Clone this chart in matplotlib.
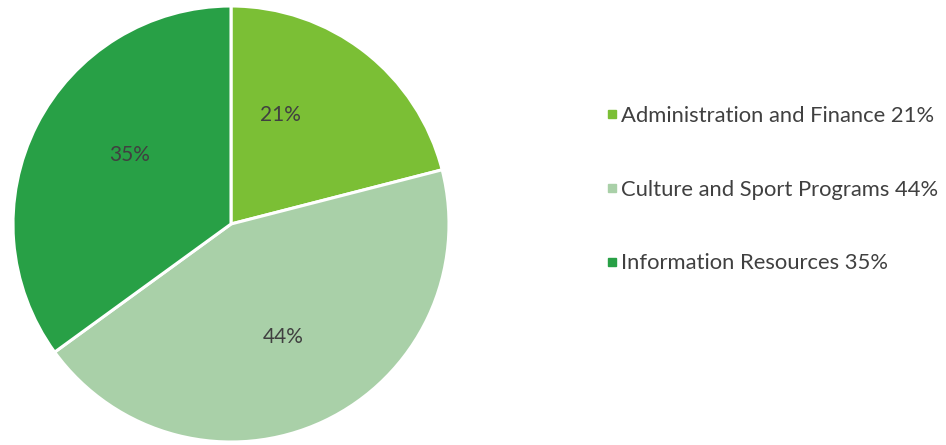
import matplotlib
matplotlib.use("Agg")
import matplotlib.pyplot as plt
from matplotlib.lines import Line2D

categories = ["Administration and Finance", "Culture and Sport Programs", "Information Resources"]
values = [21, 44, 35]
colors = ["#7BBF35", "#A9D0A8", "#28A046"]
pct_labels = ["21%", "44%", "35%"]
label_pos = [(0.225, 0.50), (0.239, -0.518), (-0.463, 0.317)]

W, H = 946, 445
fig = plt.figure(figsize=(W / 100, H / 100), dpi=100)
cx, cy, r = 231, 224, 218
ax = fig.add_axes([(cx - r) / W, (H - cy - r) / H, 2 * r / W, 2 * r / H])
wedges, _ = ax.pie(values, colors=colors, startangle=90, counterclock=False,
                   wedgeprops=dict(edgecolor="white", linewidth=2.2), radius=1)
ax.set_xlim(-1.0, 1.0)
ax.set_ylim(-1.0, 1.0)
ax.set_aspect("equal")
ax.axis("off")

font = "Lato"
txt_color = "#404040"
for (x, y), t in zip(label_pos, pct_labels):
    ax.text(x, y, t, ha="center", va="center", fontsize=15, color=txt_color, family=font)

handles = [Line2D([0], [0], marker="s", linestyle="none", markersize=5.5,
                  markerfacecolor=c, markeredgecolor=c) for c in colors]
labels = [f"{c} {v}%" for c, v in zip(categories, values)]
leg = fig.legend(handles, labels, loc="upper left", bbox_to_anchor=(598 / W, 1 - 97 / H),
                 frameon=False, prop=dict(family=font, size=15.8), labelcolor=txt_color,
                 labelspacing=2.45, handlelength=0.5, handletextpad=0.15, borderaxespad=0)

fig.savefig("out.png", dpi=100, facecolor="white")
